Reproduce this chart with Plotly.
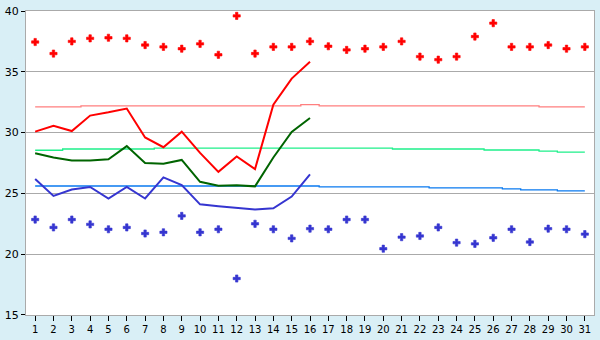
import plotly.graph_objects as go

days = list(range(1, 32))
actual_days = list(range(1, 17))

# record highs (red markers)
record_max = [37.45, 36.5, 37.5, 37.75, 37.8, 37.75, 37.2, 37.05, 36.9, 37.3,
              36.4, 39.6, 36.5, 37.05, 37.05, 37.5, 37.1, 36.8, 36.9, 37.05,
              37.5, 36.25, 36.0, 36.25, 37.9, 39.0, 37.05, 37.05, 37.2, 36.9, 37.05]
# record lows (blue markers)
record_min = [22.85, 22.2, 22.85, 22.45, 22.05, 22.2, 21.7, 21.8, 23.15, 21.8,
              22.05, 18.0, 22.5, 22.05, 21.3, 22.1, 22.05, 22.85, 22.85, 20.45,
              21.4, 21.5, 22.2, 20.95, 20.85, 21.35, 22.05, 21.0, 22.1, 22.05, 21.65]

# observed values (days 1-16)
obs_max = [30.08, 30.56, 30.13, 31.4, 31.67, 31.98, 29.6, 28.8, 30.08, 28.33,
           26.77, 28.04, 27.0, 32.3, 34.44, 35.82]
obs_mean = [28.3, 27.96, 27.7, 27.7, 27.8, 28.89, 27.5, 27.43, 27.75, 25.95,
            25.63, 25.68, 25.58, 27.95, 30.05, 31.2]
obs_min = [26.19, 24.79, 25.32, 25.53, 24.58, 25.53, 24.58, 26.32, 25.69, 24.1,
           23.94, 23.83, 23.67, 23.78, 24.74, 26.56]

# normals
norm_max = [32.12] * 3 + [32.2] * 12 + [32.3] + [32.2] * 12 + [32.12] * 3
norm_mean = [28.55] * 2 + [28.65] * 5 + [28.73] * 13 + [28.65] * 5 + [28.57] * 3 + [28.47] + [28.39] * 2
norm_min = [25.61] * 16 + [25.53] * 6 + [25.45] * 4 + [25.37] + [25.29] * 2 + [25.21] * 2

y_ticks = [15, 20, 25, 30, 35, 40]

fig = go.Figure()

fig.add_trace(go.Scatter(x=days, y=norm_max, mode="lines", line=dict(color="#FF7F7F", width=1.3, shape="hvh"), showlegend=False))
fig.add_trace(go.Scatter(x=days, y=norm_mean, mode="lines", line=dict(color="#1EF08A", width=1.3, shape="hvh"), showlegend=False))
fig.add_trace(go.Scatter(x=days, y=norm_min, mode="lines", line=dict(color="#0A7AF0", width=1.3, shape="hvh"), showlegend=False))

fig.add_trace(go.Scatter(x=actual_days, y=obs_max, mode="lines", line=dict(color="#FF0000", width=2), showlegend=False))
fig.add_trace(go.Scatter(x=actual_days, y=obs_mean, mode="lines", line=dict(color="#006400", width=2), showlegend=False))
fig.add_trace(go.Scatter(x=actual_days, y=obs_min, mode="lines", line=dict(color="#3535D0", width=2), showlegend=False))

fig.add_trace(go.Scatter(x=days, y=record_max, mode="markers",
                         marker=dict(symbol="cross", size=6, color="#FF0000", line=dict(width=0.6, color="#FF0000")), showlegend=False))
fig.add_trace(go.Scatter(x=days, y=record_min, mode="markers",
                         marker=dict(symbol="cross", size=6, color="#3535D0", line=dict(width=0.6, color="#3535D0")), showlegend=False))

fig.update_layout(
    width=600, height=340,
    margin=dict(l=20, r=5, t=5, b=20),
    paper_bgcolor="#D9EFF6",
    plot_bgcolor="#FFFFFF",
    font=dict(family="DejaVu Sans", size=10, color="#000000"),
    xaxis=dict(range=[0.5, 31.5], tickmode="array", tickvals=days, ticktext=[str(d) for d in days],
               ticks="outside", ticklen=5, tickcolor="#000000", showgrid=False, zeroline=False,
               showline=True, linecolor="#AAAAAA", linewidth=1, mirror=True, fixedrange=True),
    yaxis=dict(range=[14.999, 40.001], tickmode="array", tickvals=y_ticks, ticktext=[str(v) for v in y_ticks],
               ticks="outside", ticklen=4, tickcolor="#000000", showgrid=True, gridcolor="#AAAAAA", gridwidth=1,
               zeroline=False, showline=True, linecolor="#AAAAAA", linewidth=1, mirror=True,
               ticklabeloverflow="allow", tickfont=dict(size=11), fixedrange=True),
)

fig.write_html("out.html")
